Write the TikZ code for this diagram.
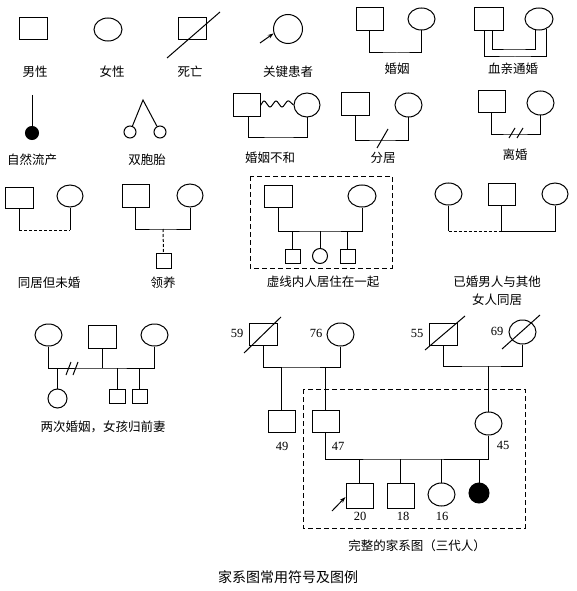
\documentclass[tikz,border=0pt]{standalone}
\usepackage{fontspec}
\setmainfont{Liberation Serif}
\newfontfamily\cjk{Noto Sans CJK SC}
\usetikzlibrary{shapes.geometric,calc,arrows.meta,decorations.pathmorphing}
\begin{document}
\begin{tikzpicture}[x=1pt,y=-1pt,line width=1pt,
  sq/.style={draw,rectangle,inner sep=0pt,minimum width=#1,minimum height=22pt},
  sq/.default=27pt,
  el/.style={draw,ellipse,inner sep=0pt,minimum width=27pt,minimum height=#1},
  el/.default=23pt,
  small/.style={draw,rectangle,inner sep=0pt,minimum width=15pt,minimum height=14pt},
  lbl/.style={font=\cjk\fontsize{12.5}{14}\selectfont,inner sep=0pt},
  num/.style={font=\fontsize{12.5}{14}\selectfont,inner sep=0pt},
  dsh/.style={dashed,dash pattern=on 3pt off 2pt},
  boxd/.style={dashed,dash pattern=on 5pt off 3pt},
  arr/.style={-{Stealth[length=6pt,width=4pt]}}]
\useasboundingbox (0,0) rectangle (577,591);

% ---------- row 1 ----------
\node[sq=28pt] (m1) at (33,29) {};
\node[lbl] at (35,72) {男性};
\node[el=23pt,minimum width=28pt] (f1) at (108,29.5) {};
\node[lbl] at (112,72) {女性};
\node[sq=28pt] (d1) at (192,29) {};
\draw ($(d1)+(-25,29)$) -- ($(d1)+(28,-17)$);
\node[lbl] at (190,72) {死亡};
\node[draw,circle,inner sep=0pt,minimum size=29pt] (k1) at (288,29) {};
\coordinate (k1a) at ($(k1)+(-28,14)$);
\draw[arr] (k1a) -- (k1.-163);
\node[lbl] at (288,72) {关键患者};

\node[sq=27pt,minimum height=23pt] (h1) at (369.5,19.5) {};
\node[el=22pt] (h2) at (421.5,19) {};
\draw (h1.south) |- (397,53) -| (h2.south);
\node[lbl] at (397,69) {婚姻};

\node[sq=29pt,minimum height=23pt] (x1) at (488.5,19.5) {};
\node[el=22pt,minimum width=28pt] (x2) at (539,19) {};
\coordinate (xo) at (515,57);
\coordinate (xi) at (515,50);
\draw ([xshift=-4.5pt]x1.south) |- (xo) -| (x2.-54);
\draw ([xshift=3.5pt]x1.south) |- (xi) -| (x2.-106);
\node[lbl] at (513,69) {血亲通婚};

% ---------- row 2 ----------
\coordinate (abt) at (32,95);
\node[draw,circle,fill=black,inner sep=0pt,minimum size=13pt] (ab) at (32,133) {};
\draw (abt) -- (ab);
\node[lbl] at (32,160) {自然流产};

\coordinate (tw) at (143,100);
\node[draw,circle,inner sep=0pt,minimum size=12pt] (t1) at (130,132) {};
\node[draw,circle,inner sep=0pt,minimum size=12pt] (t2) at (160,132) {};
\draw (t1) -- (tw) -- (t2);
\node[lbl] at (147,160) {双胞胎};

\node[sq=27pt,minimum height=23pt] (b1) at (246.5,105.5) {};
\node[el=24pt,minimum width=26pt] (b2) at (307,105) {};
\draw[rounded corners=2pt] (b1.east) -- (264,100) -- (270,108) -- (276,100) -- (282,108) -- (288,100) -- (b2.west);
\draw ([xshift=1.5pt]b1.south) |- (280,137) -| (b2.south);
\node[lbl] at (270,158) {婚姻不和};

\node[sq=28pt,minimum height=23pt] (s1) at (355,104.5) {};
\node[el=24pt] (s2) at (408.5,105) {};
\draw (s1.south) |- (383,140) -| (s2.south);
\draw (377,148) -- (388,129);
\node[lbl] at (383,158) {分居};

\node[sq=27pt] (l1) at (491.5,102) {};
\node[el=24pt] (l2) at (540.5,103) {};
\draw (l1.south) |- (515,134) -| (l2.south);
\draw (509,138) -- (515,128);
\draw (517,138) -- (523,128);
\node[lbl] at (515,155) {离婚};

% ---------- row 3 ----------
\node[sq=28pt,minimum height=21pt] (c1) at (19,197.5) {};
\node[el=22pt,minimum width=26pt] (c2) at (70,196) {};
\coordinate (c1b) at (19,230);
\coordinate (c2b) at (70,230);
\draw (c1.south) -- (c1b);
\draw (c2.south) -- (c2b);
\draw[dsh] (c1b) -- (c2b);
\node[lbl] at (49,283) {同居但未婚};

\node[sq=27pt,minimum height=23pt] (a1) at (135.5,195.5) {};
\node[el=23pt,minimum width=26pt] (a2) at (190,195.5) {};
\draw (a1.south) |- (163,229) -| (a2.south);
\coordinate (a12) at (163,229);
\node[small,minimum height=15pt] (a3) at (163.5,260.5) {};
\draw[dsh] (a12) -- (a3.north);
\node[lbl] at (163,283) {领养};

\draw[boxd] (250,176) rectangle (392,268);
\node[sq=28pt] (v1) at (278,196) {};
\node[el=22pt,minimum width=28pt] (v2) at (362,196) {};
\draw (v1.south) |- (320,231) -| (v2.south);
\node[small] (v3) at (292.5,256) {};
\node[draw,circle,inner sep=0pt,minimum size=15pt] (v4) at (320,256) {};
\node[small] (v5) at (347.5,256) {};
\draw (v3.north) -- (v3.north |- 0,231);
\draw (v4.north) -- (v4.north |- 0,231);
\draw (v5.north) -- (v5.north |- 0,231);
\node[lbl] at (323,282) {虚线内人居住在一起};

\node[el=22pt] (w1) at (448.5,194) {};
\node[sq=27pt] (w2) at (501.5,194) {};
\node[el=22pt,minimum width=26pt] (w3) at (555,194) {};
\coordinate (w1b) at (448.5,231);
\coordinate (w2b) at (501.5,231);
\draw (w1.south) -- (w1b);
\draw[dsh] (w1b) -- (w2b);
\draw (w2.south) -- (w2b) -| (w3.south);
\node[lbl] at (497,282) {已婚男人与其他};
\node[lbl] at (497,300) {女人同居};

% ---------- row 4 ----------
\node[el=22pt] (p1) at (48.5,335) {};
\node[sq=28pt,minimum height=23pt] (p2) at (102,336.5) {};
\node[el=22pt] (p3) at (154.5,335) {};
\draw (p1.south) |- (100,368) -| (p3.south);
\draw (p2.south) -- (p2.south |- 0,368);
\draw (66,375) -- (71,362);
\draw (73,375) -- (78,362);
\node[draw,circle,inner sep=0pt,minimum size=19pt] (p4) at (57.5,398.5) {};
\draw (p4.north) -- (p4.north |- 0,368);
\node[small,minimum width=16pt] (p5) at (117,396) {};
\node[small] (p6) at (139.5,396) {};
\draw (p5.north) -- (p5.north |- 0,368);
\draw (p6.north) -- (p6.north |- 0,368);
\node[lbl] at (103,427) {两次婚姻，女孩归前妻};

% ---------- pedigree ----------
\node[sq=28pt] (g1) at (263,334) {};
\draw ($(g1)+(-19,19)$) -- ($(g1)+(18,-17)$);
\node[num] at (237,333) {59};
\node[el=23pt] (g2) at (340.5,334.5) {};
\node[num] at (316,333) {76};
\draw (g1.south) |- (300,367) -| (g2.south);
\node[sq=27pt] (g3) at (281.5,421) {};
\node[sq=27pt] (g4) at (325.5,421) {};
\draw (g3.north) -- (g3.north |- 0,367);
\draw (g4.north) -- (g4.north |- 0,367);
\node[num] at (282,446) {49};
\node[num] at (338,446) {47};

\node[sq=28pt] (g5) at (443,334) {};
\draw ($(g5)+(-18,16)$) -- ($(g5)+(22,-18)$);
\node[num] at (417,333) {55};
\node[el=24pt] (g6) at (522.5,332) {};
\draw ($(g6)+(-20.5,17)$) -- ($(g6)+(17.5,-17)$);
\node[num] at (497,331) {69};
\draw (g5.south) |- (480,366) -| (g6.south);
\node[el=23pt] (g7) at (488.5,423.5) {};
\draw (g7.north) -- (g7.north |- 0,366);
\node[num] at (503,445) {45};

\draw[boxd] (303,389) rectangle (525,528);
\draw (g4.south) |- (400,459) -| (g7.south);
\node[sq=27pt,minimum height=25pt] (g8) at (359.5,495.5) {};
\node[sq=27pt,minimum height=25pt] (g9) at (400.5,495.5) {};
\node[el=23pt] (g10) at (441.5,494.5) {};
\node[draw,circle,fill=black,inner sep=0pt,minimum size=20pt] (g11) at (479,493) {};
\draw (g8.north) -- (g8.north |- 0,459);
\draw (g9.north) -- (g9.north |- 0,459);
\draw (g10.north) -- (g10.north |- 0,459);
\draw (g11.north) -- (g11.north |- 0,459);
\coordinate (g8a) at (332,511);
\draw[arr] (g8a) -- ([yshift=-1.5pt]g8.west);
\node[num] at (360,516) {20};
\node[num] at (403,516) {18};
\node[num] at (442,516) {16};
\node[lbl] at (417,546) {完整的家系图（三代人）};

\node[lbl,font=\cjk\fontsize{14}{16}\selectfont] at (288,577) {家系图常用符号及图例};
\end{tikzpicture}
\end{document}
